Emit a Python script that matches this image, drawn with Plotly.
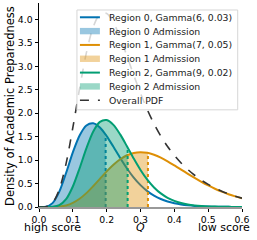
import numpy as np
import plotly.graph_objects as go

# Q grid (x values)
q = [0.00, 0.02, 0.04, 0.06, 0.08, 0.10, 0.12, 0.14, 0.16, 0.18, 0.20,
     0.22, 0.24, 0.26, 0.28, 0.30, 0.32, 0.34, 0.36, 0.38, 0.40,
     0.42, 0.44, 0.46, 0.48, 0.50, 0.52, 0.54, 0.56, 0.58, 0.60]

# Weighted component densities
region0 = [0, 0.005, 0.082, 0.327, 0.725, 1.166, 1.526, 1.739, 1.786, 1.696, 1.513,
           1.283, 1.044, 0.821, 0.626, 0.466, 0.339, 0.242, 0.170, 0.117, 0.080,
           0.054, 0.036, 0.023, 0.015, 0.010, 0.006, 0.004, 0.003, 0.002, 0.001]
region1 = [0, 0.000, 0.001, 0.009, 0.034, 0.088, 0.175, 0.296, 0.443, 0.601, 0.759,
           0.901, 1.018, 1.103, 1.153, 1.169, 1.155, 1.113, 1.052, 0.975, 0.889,
           0.799, 0.708, 0.620, 0.536, 0.459, 0.389, 0.327, 0.273, 0.226, 0.186]
region2 = [0, 0.000, 0.003, 0.038, 0.166, 0.437, 0.827, 1.251, 1.606, 1.815, 1.855,
           1.752, 1.548, 1.294, 1.032, 0.790, 0.583, 0.417, 0.290, 0.197, 0.131,
           0.085, 0.054, 0.034, 0.021, 0.013, 0.008, 0.005, 0.003, 0.002, 0.001]

# Admission cutoffs per region
cutoffs = [0.197, 0.322, 0.262]

line_names = ["Region 0, Gamma(6, 0.03)", "Region 1, Gamma(7, 0.05)", "Region 2, Gamma(9, 0.02)"]
fill_names = ["Region 0 Admission", "Region 1 Admission", "Region 2 Admission"]
overall_name = "Overall PDF"
colors = ["#0173B2", "#DE8F05", "#029E73"]
fill_colors = ["rgba(1,115,178,0.4)", "rgba(222,143,5,0.4)", "rgba(2,158,115,0.4)"]
dash_color = "#333333"

series = [region0, region1, region2]
qa = np.array(q)
overall = np.array(region0) + np.array(region1) + np.array(region2)

W, H = 257, 240
L, R, T, B = 39, 14.7, 3, 32.7
PW, PH = W - L - R, H - T - B


def px(xp):
    return (xp - L) / PW


def py(yp):
    return (H - B - yp) / PH


fig = go.Figure()
for ys, c, fc, cut in zip(series, colors, fill_colors, cutoffs):
    ya = np.array(ys)
    fig.add_trace(go.Scatter(x=q, y=ys, mode="lines", showlegend=False, hoverinfo="skip",
                             line=dict(color=c, width=2, shape="spline", smoothing=0.8)))
    mask = qa < cut
    yc = float(np.interp(cut, qa, ya))
    fx = list(qa[mask]) + [cut]
    fy = list(ya[mask]) + [yc]
    fig.add_trace(go.Scatter(x=fx, y=fy, mode="lines", showlegend=False, fill="tozeroy",
                             hoverinfo="skip", fillcolor=fc,
                             line=dict(width=0, color=fc, shape="spline", smoothing=0.8)))
    fig.add_trace(go.Scatter(x=[cut, cut], y=[0, yc], mode="lines", showlegend=False,
                             hoverinfo="skip", line=dict(color=c, width=2, dash="dot")))

fig.add_trace(go.Scatter(x=q, y=list(overall), mode="lines", showlegend=False, hoverinfo="skip",
                         line=dict(color=dash_color, width=1.6, dash="dash", shape="spline", smoothing=0.8)))

# Manual legend (compact, matplotlib-like)
shapes = []
annotations = []
shapes.append(dict(type="rect", xref="paper", yref="paper", x0=px(77), x1=px(238), y0=py(110), y1=py(10),
                   fillcolor="rgba(255,255,255,0.8)", line=dict(color="#d6d6d6", width=1), layer="above"))
entries = []
for i in range(3):
    entries.append(("line", colors[i], line_names[i]))
    entries.append(("fill", fill_colors[i], fill_names[i]))
entries.append(("dash", dash_color, overall_name))
row_y = 17.3
for kind, col, label in entries:
    if kind == "fill":
        shapes.append(dict(type="rect", xref="paper", yref="paper", x0=px(80), x1=px(100),
                           y0=py(row_y + 3.2), y1=py(row_y - 3.2), fillcolor=col,
                           line=dict(width=0), layer="above"))
    else:
        shapes.append(dict(type="line", xref="paper", yref="paper", x0=px(80), x1=px(100),
                           y0=py(row_y), y1=py(row_y),
                           line=dict(color=col, width=2 if kind == "line" else 1.6,
                                     dash="solid" if kind == "line" else "dash"), layer="above"))
    annotations.append(dict(text=label, xref="paper", yref="paper", x=px(107), y=py(row_y),
                            xanchor="left", yanchor="middle", showarrow=False,
                            font=dict(size=9.3, color="#222222")))
    row_y += 13.85

# Axis titles and end labels
annotations.append(dict(text="Density of Academic Preparedness", xref="paper", yref="paper",
                        x=px(10), y=py(106), textangle=-90, xanchor="center", yanchor="middle",
                        showarrow=False, font=dict(size=11.5)))
annotations.append(dict(text="<i>Q</i>", xref="paper", yref="paper", x=px(140.6), y=py(228.3),
                        xanchor="center", yanchor="middle", showarrow=False, font=dict(size=11)))
annotations.append(dict(text="high score", xref="paper", yref="paper", x=px(53), y=py(228.3),
                        xanchor="center", yanchor="middle", showarrow=False, font=dict(size=11)))
annotations.append(dict(text="low score", xref="paper", yref="paper", x=px(252), y=py(228.3),
                        xanchor="right", yanchor="middle", showarrow=False, font=dict(size=11)))

fig.update_layout(
    width=W, height=H,
    margin=dict(l=L, r=R, t=T, b=B),
    plot_bgcolor="white", paper_bgcolor="white",
    font=dict(family="DejaVu Sans", size=9.3, color="black"),
    showlegend=False,
    hovermode=False,
    shapes=shapes,
    annotations=annotations,
    xaxis=dict(range=[0, 0.6], tickvals=[0, 0.1, 0.2, 0.3, 0.4, 0.5, 0.6],
               ticktext=["0.0", "0.1", "0.2", "0.3", "0.4", "0.5", "0.6"],
               showgrid=False, zeroline=False, showline=True, linecolor="#999999", linewidth=1.5,
               ticks="outside", ticklen=3.5, tickcolor="black", automargin=False),
    yaxis=dict(range=[0, 4.35], tickvals=[0, 0.5, 1, 1.5, 2, 2.5, 3, 3.5, 4],
               ticktext=["0.0", "0.5", "1.0", "1.5", "2.0", "2.5", "3.0", "3.5", "4.0"],
               showgrid=False, zeroline=False, showline=True, linecolor="black", linewidth=1,
               ticks="outside", ticklen=3.5, tickcolor="black", automargin=False),
)

fig.write_html("out.html", config={"displayModeBar": False, "staticPlot": True},
               post_script="document.body.style.margin='0';document.body.style.padding='0';")
